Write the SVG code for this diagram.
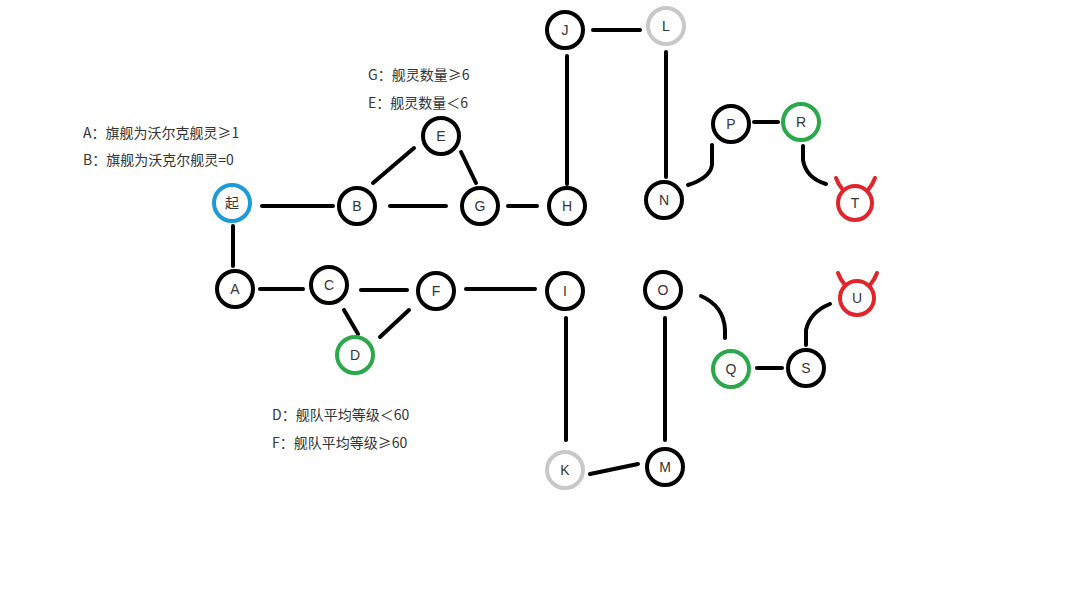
<svg xmlns="http://www.w3.org/2000/svg" width="1080" height="607" viewBox="0 0 1080 607">
<style>
.n circle{fill:#fff;stroke:#000;stroke-width:4}
.g circle{stroke:#2aa84a}
.gr circle{stroke:#c8c8c8}
.b circle{stroke:#1e9bd7}
.r circle,.r path{stroke:#e0252b}
.r path{fill:none;stroke-width:4;stroke-linecap:round}
.n text{font-family:"Liberation Sans","Noto Sans CJK SC",sans-serif;font-size:14px;fill:#333;text-anchor:middle;dominant-baseline:central}
#edges path{fill:none;stroke:#000;stroke-width:4;stroke-linecap:round}
.t{font-family:"Noto Sans CJK SC",sans-serif;font-size:14px;fill:#333}
</style>
<rect width="1080" height="607" fill="#fff"/>
<g id="edges">
<path d="M262,206H333"/><path d="M390,206H446"/><path d="M373,183L414,148"/><path d="M461,152L476,183"/>
<path d="M508,206H537"/><path d="M567,184V56"/><path d="M593,30H640"/><path d="M666,52V177"/>
<path d="M688,185Q710,178 712,165V145"/><path d="M754,122H778"/><path d="M803,146V160Q806,178 826,184"/>
<path d="M233,226V266"/><path d="M260,289H303"/><path d="M361,290H407"/><path d="M344,310L358,334"/><path d="M380,337L409,310"/>
<path d="M466,289H535"/><path d="M566,318V440"/><path d="M590,474L638,464"/><path d="M665,318V440"/>
<path d="M701,296Q724,306 725,330V338"/><path d="M757,368H782"/><path d="M806,345V330Q810,312 830,304"/>
</g>
<g id="n-start" class="n b"><circle cx="232" cy="203" r="18"/><text x="232" y="203">起</text></g>
<g id="n-B" class="n"><circle cx="357" cy="206" r="18"/><text x="357" y="206">B</text></g>
<g id="n-E" class="n"><circle cx="441" cy="136" r="18"/><text x="441" y="136">E</text></g>
<g id="n-G" class="n"><circle cx="480" cy="206" r="18"/><text x="480" y="206">G</text></g>
<g id="n-H" class="n"><circle cx="567" cy="206" r="18"/><text x="567" y="206">H</text></g>
<g id="n-J" class="n"><circle cx="565" cy="30" r="18"/><text x="565" y="30">J</text></g>
<g id="n-L" class="n gr"><circle cx="666" cy="26" r="18"/><text x="666" y="26">L</text></g>
<g id="n-N" class="n"><circle cx="664" cy="200" r="18"/><text x="664" y="200">N</text></g>
<g id="n-P" class="n"><circle cx="731" cy="124" r="18"/><text x="731" y="124">P</text></g>
<g id="n-R" class="n g"><circle cx="801" cy="122" r="18"/><text x="801" y="122">R</text></g>
<g id="n-T" class="n r"><path d="M843,190Q838,184 836,178M868,190Q873,184 875,178"/><circle cx="855" cy="203" r="17"/><text x="855" y="203">T</text></g>
<g id="n-A" class="n"><circle cx="235" cy="289" r="18"/><text x="235" y="289">A</text></g>
<g id="n-C" class="n"><circle cx="329" cy="285" r="18"/><text x="329" y="285">C</text></g>
<g id="n-F" class="n"><circle cx="436" cy="291" r="18"/><text x="436" y="291">F</text></g>
<g id="n-D" class="n g"><circle cx="355" cy="355" r="18"/><text x="355" y="355">D</text></g>
<g id="n-I" class="n"><circle cx="565" cy="291" r="18"/><text x="565" y="291">I</text></g>
<g id="n-O" class="n"><circle cx="663" cy="290" r="18"/><text x="663" y="290">O</text></g>
<g id="n-K" class="n gr"><circle cx="565" cy="470" r="18"/><text x="565" y="470">K</text></g>
<g id="n-M" class="n"><circle cx="665" cy="467" r="18"/><text x="665" y="467">M</text></g>
<g id="n-Q" class="n g"><circle cx="731" cy="369" r="18"/><text x="731" y="369">Q</text></g>
<g id="n-S" class="n"><circle cx="806" cy="368" r="18"/><text x="806" y="368">S</text></g>
<g id="n-U" class="n r"><path d="M845,285Q840,279 838,273M870,285Q875,279 877,273"/><circle cx="857" cy="298" r="17"/><text x="857" y="298">U</text></g>
<text class="t" x="83" y="138">A：旗舰为沃尔克舰灵≥1</text>
<text class="t" x="83" y="165">B：旗舰为沃克尔舰灵=0</text>
<text class="t" x="368" y="80">G：舰灵数量≥6</text>
<text class="t" x="368" y="108">E：舰灵数量＜6</text>
<text class="t" x="272" y="420">D：舰队平均等级＜60</text>
<text class="t" x="272" y="448">F：舰队平均等级≥60</text>
</svg>
